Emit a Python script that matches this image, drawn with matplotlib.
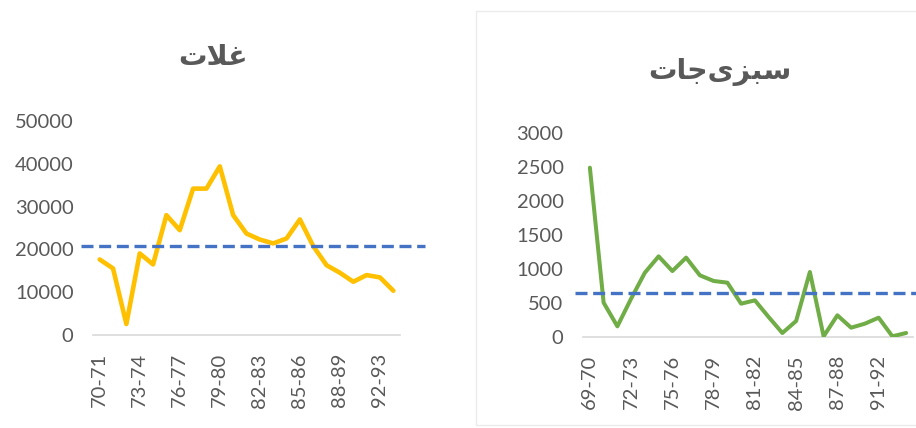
import matplotlib
matplotlib.use("Agg")
import matplotlib.pyplot as plt
from matplotlib.patches import Rectangle

# ---- data ----
cereal_years = ["70-71", "71-72", "72-73", "73-74", "74-75", "75-76", "76-77", "77-78",
                "78-79", "79-80", "80-81", "81-82", "82-83", "83-84", "84-85", "85-86",
                "86-87", "87-88", "88-89", "89-90", "90-91", "92-93", "93-94"]
cereal_values = [17650, 15550, 2570, 19050, 16490, 28000, 24500, 34200, 34200, 39400,
                 28000, 23700, 22300, 21400, 22550, 27000, 20760, 16300, 14540, 12440,
                 14000, 13450, 10340]
cereal_mean = 20800

veg_years = ["69-70", "70-71", "71-72", "72-73", "73-74", "74-75", "75-76", "76-77",
             "77-78", "78-79", "79-80", "80-81", "81-82", "82-83", "83-84", "84-85",
             "85-86", "86-87", "87-88", "88-89", "89-90", "91-92", "92-93", "93-94"]
veg_values = [2490, 505, 157, 564, 946, 1186, 970, 1167, 907, 824, 799, 490, 539, 294,
              59, 235, 956, 10, 319, 137, 196, 284, 10, 59]
veg_mean = 650

# Titles (Arabic presentation forms, visual order)
title_cereal = "\uFE95\uFEFC\uFECF"                      # غلات
title_veg = "\uFE95\uFE8E\uFE9F\uFEEF\uFEB0\uFE92\uFEB3"   # سبزی‌جات

W, H = 916, 428
fig = plt.figure(figsize=(W / 100, H / 100), dpi=100)
fig.patch.set_facecolor("white")

GRAY = "#595959"
FONT = "Lato"

def px_axes(x0, x1, y_top, y_bot):
    return fig.add_axes([x0 / W, (H - y_bot) / H, (x1 - x0) / W, (y_bot - y_top) / H])

# border of the right chart
fig.add_artist(Rectangle((476 / W, (H - 425) / H), (960 - 476) / W, (425 - 11) / H,
                         transform=fig.transFigure, fill=False, edgecolor="#EBEBEB",
                         linewidth=1.0))

def setup(ax, years, values, mean, color, lw, ymax, ystep, dash_x, ypad):
    x = list(range(len(years)))
    ax.plot(x, values, color=color, linewidth=lw, solid_joinstyle="round",
            solid_capstyle="round", zorder=3)
    ax.set_xlim(-0.5, len(years) - 0.5)
    ax.set_ylim(0, ymax)
    ax.set_yticks(list(range(0, ymax + 1, ystep)))
    ax.set_xticks(x[::3])
    ax.set_xticklabels(years[::3], rotation=90, fontsize=14.5, color=GRAY, family=FONT)
    for lab in ax.get_yticklabels():
        lab.set_fontsize(14.5)
        lab.set_color(GRAY)
        lab.set_family(FONT)
    ax.tick_params(axis="both", length=0)
    ax.tick_params(axis="y", pad=ypad)
    ax.tick_params(axis="x", pad=13)
    for s in ["top", "right", "left"]:
        ax.spines[s].set_visible(False)
    ax.spines["bottom"].set_color("#D9D9D9")
    ax.spines["bottom"].set_linewidth(1.2)
    ax.axhline(mean, xmin=dash_x[0], xmax=dash_x[1], color="#4472C4", linewidth=2.4,
               linestyle=(0, (3.6, 1.7)), clip_on=False, zorder=4)
    ax.set_facecolor("none")

ax1 = px_axes(93, 400, 121, 335)
setup(ax1, cereal_years, cereal_values, cereal_mean, "#FFC000", 3.3, 50000, 10000,
      (-0.04, 1.08), 14)

ax2 = px_axes(583, 913, 133, 337)
setup(ax2, veg_years, veg_values, veg_mean, "#70AD47", 2.9, 3000, 500, (-0.025, 1.02), 14)

fig.text(213 / W, 1 - 57 / H, title_cereal, ha="center", va="center",
         fontsize=20.5, fontweight="bold", color=GRAY, family="DejaVu Sans")
fig.text(720 / W, 1 - 72 / H, title_veg, ha="center", va="center",
         fontsize=20.5, fontweight="bold", color=GRAY, family="DejaVu Sans")

fig.savefig("out.png", dpi=100, facecolor="white")
